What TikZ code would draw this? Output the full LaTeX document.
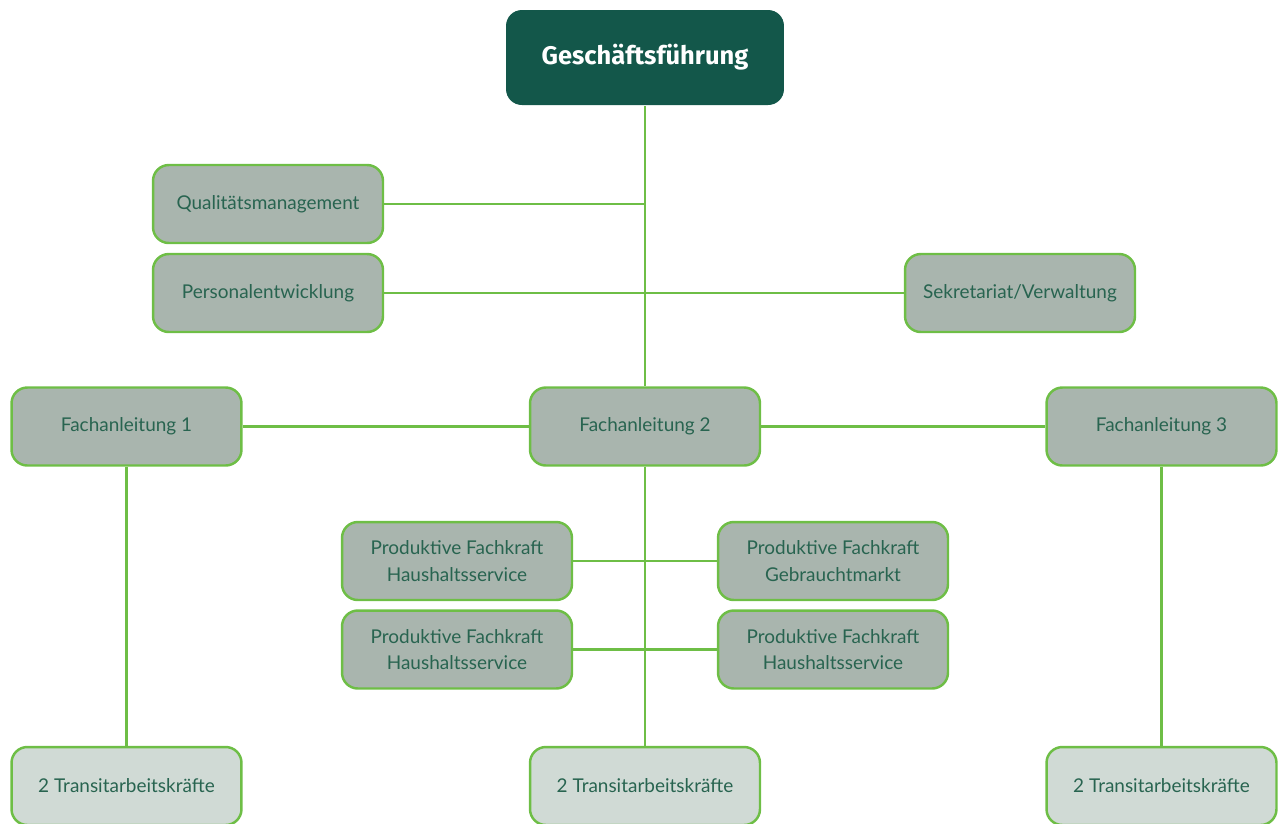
\documentclass[tikz,border=0pt]{standalone}
\usepackage{fontspec}
\setmainfont{Lato}
\newfontfamily\headfont{Fira Sans}
\usepackage{tikz}
\definecolor{darkgreen}{RGB}{19,87,74}
\definecolor{linegreen}{RGB}{110,190,70}
\definecolor{boxgray}{RGB}{169,181,174}
\definecolor{boxlight}{RGB}{208,218,213}
\definecolor{textgreen}{RGB}{40,100,80}

\begin{document}
\begin{tikzpicture}[x=0.02cm,y=-0.02cm,draw=linegreen,line width=1.4pt]
            \tikzstyle{unit}=[rectangle,rounded corners=9pt,draw=linegreen,line width=1.4pt,fill=boxgray,
                minimum width=4.6cm,minimum height=1.56cm,inner sep=0pt,align=center,
                text=textgreen,font=\fontsize{10.8}{15}\selectfont]
            \tikzstyle{trainee}=[unit, fill=boxlight]
            \tikzstyle{head}=[unit, draw=none, fill=darkgreen, minimum width=5.56cm, minimum height=1.9cm,
                text=white, font=\headfont\bfseries\fontsize{14.5}{17}\selectfont]

            \useasboundingbox (0,0) rectangle (1279,823);

            % Management
            \node[head] (GF) at (645,57.5) {Geschäftsführung};
            \node[unit] (QM) at (268,204) {Qualitätsmanagement};
            \node[unit] (PE) at (268,293) {Personalentwicklung};
            \node[unit] (SV) at (1020,293) {Sekretariat/Verwaltung};

            % Fachanleitung and Transitarbeitskraefte
            \foreach \name / \x in {1/126.5,2/645,3/1161.5}
            {
                \node[unit] (FA-\name) at (\x,426.5) {Fachanleitung \name};
                \node[trainee] (TR-\name) at (\x,786) {2 Transitarbeitskräfte};
            }

            % Produktive Fachkraefte
            \node[unit] (PF-1) at (457,561) {Produktive Fachkraft\\Haushaltsservice};
            \node[unit] (PF-2) at (833,561) {Produktive Fachkraft\\Gebrauchtmarkt};
            \node[unit] (PF-3) at (457,649.5) {Produktive Fachkraft\\Haushaltsservice};
            \node[unit] (PF-4) at (833,649.5) {Produktive Fachkraft\\Haushaltsservice};

            % Connections
            \draw (GF) -- (FA-2);
            \draw (QM.east) -- (QM.east -| GF.south);
            \draw (PE) -- (SV);
            \draw (FA-1) -- (FA-2) -- (FA-3);
            \draw (PF-1) -- (PF-2);
            \draw (PF-3) -- (PF-4);
            \foreach \name in {1,...,3}
                \draw (FA-\name) -- (TR-\name);
        \end{tikzpicture}
\end{document}
